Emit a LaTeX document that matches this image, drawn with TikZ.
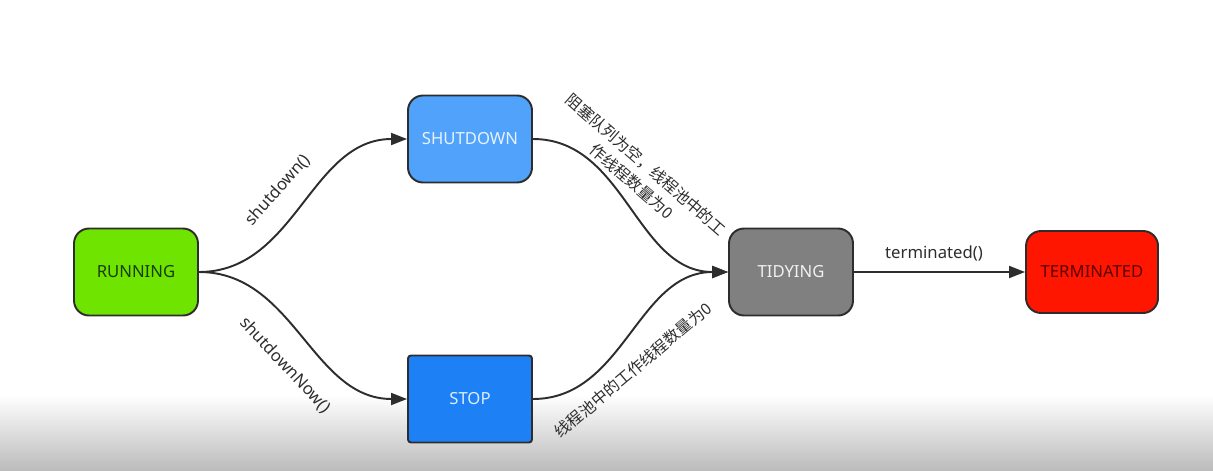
\documentclass[tikz,border=0pt]{standalone}
\usepackage{fontspec}
\setmainfont{Noto Sans}
\newfontfamily\cjk{Noto Sans CJK SC}
\usetikzlibrary{arrows.meta}
\definecolor{white}{RGB}{255,255,255}
\definecolor{edge_gray}{RGB}{45,45,45}
\definecolor{lime_green}{RGB}{110,228,0}
\definecolor{light_blue}{RGB}{80,162,250}
\definecolor{deep_blue}{RGB}{30,128,245}
\definecolor{mid_gray}{RGB}{128,128,128}
\definecolor{signal_red}{RGB}{255,22,0}
\definecolor{shade_gray}{RGB}{188,188,188}

\begin{document}
\begin{tikzpicture}[
	state/.style={rectangle,rounded corners=0.3cm,draw=edge_gray,line width=1.1pt,
		minimum width=2.48cm,minimum height=1.74cm,font=\fontsize{9.5}{11}\selectfont},
	note/.style={text=edge_gray,font=\fontsize{9.5}{11}\selectfont},
	cjknote/.style={text=edge_gray,align=center,font=\cjk\fontsize{9}{12.5}\selectfont}]
	\useasboundingbox (0,0) rectangle (24.26,9.40);
	\shade[top color=white,bottom color=shade_gray] (0,0) rectangle (24.26,1.50);
	
	\node[state,fill=lime_green,text={rgb,255:red,25;green,60;blue,10}] (1) at (2.72,3.96) {RUNNING};
	\node[state,fill=light_blue,text={rgb,255:red,232;green,242;blue,255}] (2) at (9.40,6.62) {SHUTDOWN};
	\node[state,rounded corners=0.06cm,fill=deep_blue,text={rgb,255:red,220;green,236;blue,255}] (3) at (9.40,1.42) {STOP};
	\node[state,fill=mid_gray,text={rgb,255:red,240;green,240;blue,240}] (4) at (15.82,3.96) {TIDYING};
	\node[state,fill=signal_red,minimum width=2.64cm,minimum height=1.64cm,text={rgb,255:red,90;green,0;blue,0}] (5) at (21.84,3.96) {TERMINATED};
	
	\foreach \x/\y in {1/2,1/3,2/4,3/4,4/5}
		\draw[edge_gray,-{Triangle[length=0.32cm,width=0.24cm]},line width=1.1pt] (\x) to[out=0,in=180] (\y);
	
	\node[note,rotate=48] (l12) at (5.56,5.60) {shutdown()};
	\node[note,rotate=-47] (l13) at (5.70,2.10) {shutdownNow()};
	\node[note] (l45) at (18.68,4.34) {terminated()};
	\node[cjknote,rotate=-41] (l24) at (12.78,5.94) {阻塞队列为空，线程池中的工\\作线程数量为0};
	\node[cjknote,rotate=40] (l34) at (12.66,2.00) {线程池中的工作线程数量为0};
\end{tikzpicture}
\end{document}
